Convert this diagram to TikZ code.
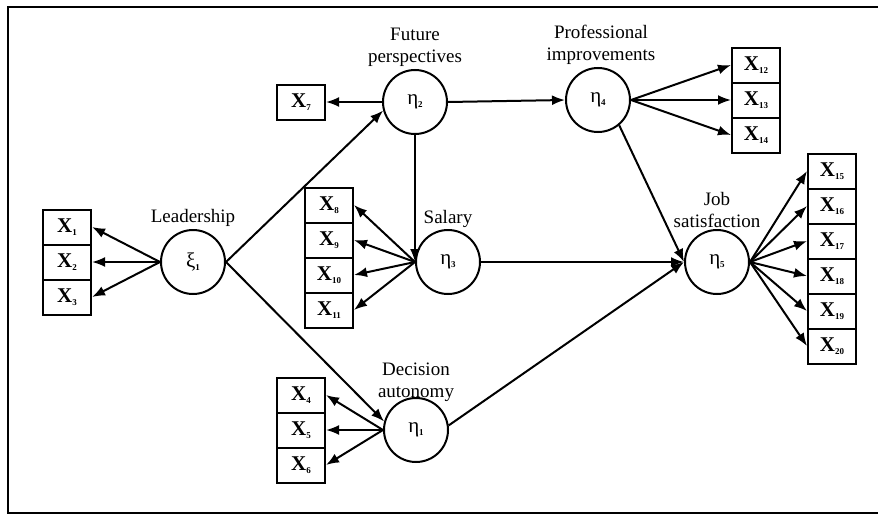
\documentclass[tikz,border=0pt]{standalone}
\usepackage{fontspec}
\setmainfont{Liberation Serif}
\usetikzlibrary{arrows.meta,positioning}

\newcommand{\ix}[1]{\textbf{X}\raisebox{-3pt}{\fontsize{9}{9}\selectfont\bfseries #1}}
\newcommand{\lv}[2]{#1\raisebox{-3pt}{\fontsize{9}{9}\selectfont\bfseries #2}}

\tikzset{
  latent/.style={draw,circle,line width=2pt,minimum size=64pt,inner sep=0pt,font=\fontsize{21}{22}\selectfont},
  ind/.style={draw,rectangle,line width=2pt,minimum width=48pt,minimum height=35pt,inner sep=0pt,font=\fontsize{21}{22}\selectfont},
  lab/.style={align=center,font=\fontsize{19}{22}\selectfont,inner sep=1pt},
  arr/.style={line width=2pt,-{Latex[length=13pt,width=10pt]}}
}

\begin{document}
\begin{tikzpicture}[x=1pt,y=-1pt]

  \useasboundingbox (0,0) rectangle (878,514);

  % Frame
  \draw[line width=2.5pt] (882,7) -- (8,7) -- (8,513) -- (882,513);

  % Latent variables
  \node[latent] (lead) at (193,262) {\lv{ξ}{1}};
  \node[latent] (fut)  at (415,102) {\lv{η}{2}};
  \node[latent] (sal)  at (448,262) {\lv{η}{3}};
  \node[latent] (dec)  at (416,430) {\lv{η}{1}};
  \node[latent] (prof) at (598,100) {\lv{η}{4}};
  \node[latent] (job)  at (717,262) {\lv{η}{5}};

  % Labels
  \node[lab,above=1pt of lead] (leadlab) {Leadership};
  \node[lab,above=1pt of fut] (futlab) {Future\\perspectives};
  \node[lab,above=0pt of sal] (sallab) {Salary};
  \node[lab,above=-6pt of dec] (declab) {Decision\\autonomy};
  \node[lab,above=1pt of prof,xshift=3pt] (proflab) {Professional\\improvements};
  \node[lab,above=0pt of job] (joblab) {Job\\satisfaction};

  % Indicators
  \foreach \i/\y in {1/227,2/262,3/297} {
    \node[ind] (x\i) at (67,\y) {\ix{\i}};
  }
  \foreach \i/\y in {4/395,5/430,6/465} {
    \node[ind] (x\i) at (301,\y) {\ix{\i}};
  }
  \node[ind] (x7) at (301,102) {\ix{7}};
  \foreach \i/\y in {8/205,9/240,10/275,11/310} {
    \node[ind] (x\i) at (329,\y) {\ix{\i}};
  }
  \foreach \i/\y in {12/65,13/100,14/135} {
    \node[ind] (x\i) at (756,\y) {\ix{\i}};
  }
  \foreach \i/\y in {15/171,16/206,17/241,18/276,19/311,20/346} {
    \node[ind] (x\i) at (832,\y) {\ix{\i}};
  }

  % Measurement arrows
  \foreach \i in {1,2,3} {
    \draw[arr] (lead.west) -- (x\i.east);
  }
  \foreach \i in {4,5,6} {
    \draw[arr] (dec.west) -- (x\i.east);
  }
  \draw[arr] (fut.west) -- (x7.east);
  \foreach \i in {8,...,11} {
    \draw[arr] (sal.west) -- (x\i.east);
  }
  \foreach \i in {12,13,14} {
    \draw[arr] (prof.east) -- (x\i.west);
  }
  \foreach \i in {15,...,20} {
    \draw[arr] (job.east) -- (x\i.west);
  }

  % Structural paths
  \draw[arr] (lead.east) -- (fut.195);
  \draw[arr] (lead.east) -- (dec.165);
  \draw[arr] (fut.south) -- (sal.west);
  \draw[arr] (fut.east) -- (prof.west);
  \draw[arr] (prof.-50) -- (job.west);
  \draw[arr] (sal.east) -- (job.west);
  \draw[arr] (dec.8) -- (job.west);

\end{tikzpicture}
\end{document}
